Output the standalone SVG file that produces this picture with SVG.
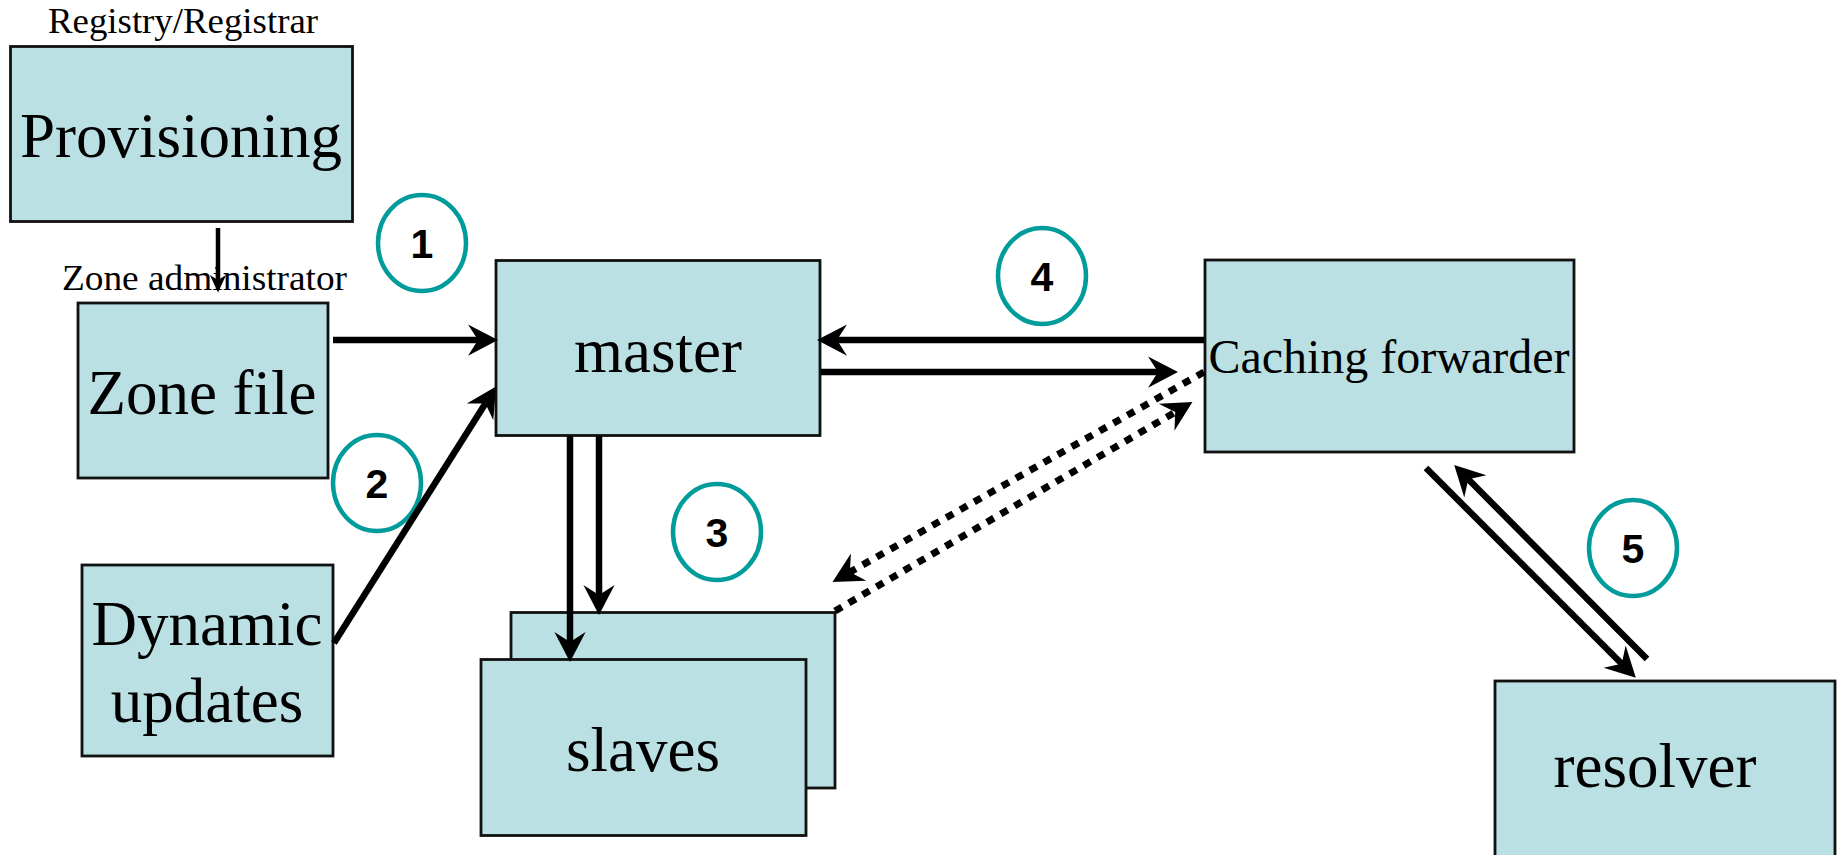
<svg xmlns="http://www.w3.org/2000/svg" width="1842" height="855" viewBox="0 0 1842 855">
  <style>
    .box { fill: #bae0e3; stroke: #111; stroke-width: 2.8; }
    .lbl { font-family: "Liberation Serif", "Times New Roman", serif; fill: #000; text-anchor: middle; }
    .big { font-size: 63px; }
    .small { font-size: 36px; }
    .mid { font-size: 48px; }
    .step { fill: none; stroke: #009b9b; stroke-width: 4.5; }
    .num { font-family: "Liberation Sans", Arial, sans-serif; font-weight: bold; font-size: 41px; fill: #000; text-anchor: middle; }
    .conn { fill: none; stroke: #000; stroke-width: 6.5; stroke-linecap: butt; }
    .thin { stroke-width: 4.5; }
    .dot { stroke-width: 7; stroke-dasharray: 8 8; }
  </style>
  <defs>
    <marker id="head" markerUnits="userSpaceOnUse" orient="auto" markerWidth="40" markerHeight="40" refX="0" refY="0" viewBox="-12 -16 32 32" overflow="visible">
      <path d="M16,0 L-8,-12.5 L0,0 L-8,12.5 Z" fill="#000"/>
    </marker>
    <marker id="headSmall" markerUnits="userSpaceOnUse" orient="auto" markerWidth="20" markerHeight="20" refX="0" refY="0" viewBox="-6 -8 16 16" overflow="visible">
      <path d="M10,0 L-4,-6.5 L0,0 L-4,6.5 Z" fill="#000"/>
    </marker>
  </defs>

  <!-- nodes -->
  <g id="provisioning">
    <text class="lbl small" x="183" y="33" textLength="270" lengthAdjust="spacingAndGlyphs">Registry/Registrar</text>
    <rect class="box" x="10.5" y="46.5" width="342" height="175"/>
    <text class="lbl big" x="181" y="157">Provisioning</text>
  </g>
  <g id="zone-file">
    <text class="lbl small" x="204.5" y="290" textLength="285" lengthAdjust="spacingAndGlyphs">Zone administrator</text>
    <rect class="box" x="78" y="303" width="250" height="175"/>
    <text class="lbl big" x="202" y="414">Zone file</text>
  </g>
  <g id="dynamic-updates">
    <rect class="box" x="82" y="565" width="251" height="191"/>
    <text class="lbl big" x="207" y="645">Dynamic</text>
    <text class="lbl big" x="207" y="722">updates</text>
  </g>
  <g id="master">
    <rect class="box" x="496" y="260.5" width="324" height="175"/>
    <text class="lbl big" x="658" y="372">master</text>
  </g>
  <g id="slaves">
    <rect class="box" x="511" y="612.5" width="324" height="175.5"/>
    <rect class="box" x="481" y="659.5" width="325" height="176"/>
    <text class="lbl big" x="643" y="771">slaves</text>
  </g>
  <g id="caching-forwarder">
    <rect class="box" x="1205" y="260" width="369" height="192"/>
    <text class="lbl mid" x="1389" y="373">Caching forwarder</text>
  </g>
  <g id="resolver">
    <rect class="box" x="1495" y="681" width="340" height="200"/>
    <text class="lbl big" x="1655" y="787">resolver</text>
  </g>

  <!-- step markers -->
  <g id="step-1"><ellipse class="step" cx="422" cy="243" rx="44" ry="48"/><text class="num" x="422" y="257.5">1</text></g>
  <g id="step-2"><ellipse class="step" cx="377" cy="483" rx="44" ry="48"/><text class="num" x="377" y="497.5">2</text></g>
  <g id="step-3"><ellipse class="step" cx="717" cy="532" rx="44" ry="48"/><text class="num" x="717" y="546.5">3</text></g>
  <g id="step-4"><ellipse class="step" cx="1042" cy="276" rx="44" ry="48"/><text class="num" x="1042" y="290.5">4</text></g>
  <g id="step-5"><ellipse class="step" cx="1633" cy="548" rx="44" ry="48"/><text class="num" x="1633" y="562.5">5</text></g>

  <!-- connectors -->
  <g id="connectors">
    <line class="conn thin" x1="218" y1="228" x2="218" y2="280" marker-end="url(#headSmall)"/>
    <line class="conn" x1="333" y1="340" x2="478" y2="340" marker-end="url(#head)"/>
    <line class="conn" x1="334" y1="643" x2="485.4" y2="403.5" marker-end="url(#head)"/>
    <line class="conn" x1="1204" y1="340" x2="837" y2="340" marker-end="url(#head)"/>
    <line class="conn" x1="821" y1="372" x2="1158" y2="372" marker-end="url(#head)"/>
    <line class="conn" x1="570" y1="436" x2="570" y2="642" marker-end="url(#head)"/>
    <line class="conn" x1="599" y1="436" x2="599" y2="595" marker-end="url(#head)"/>
    <line class="conn dot" x1="1204" y1="372" x2="849.9" y2="572.1" marker-end="url(#head)"/>
    <line class="conn dot" x1="835" y1="611" x2="1175.2" y2="412.1" marker-end="url(#head)"/>
    <line class="conn" x1="1426" y1="468" x2="1621.7" y2="663.7" marker-end="url(#head)"/>
    <line class="conn" x1="1647" y1="659" x2="1468.3" y2="479.3" marker-end="url(#head)"/>
  </g>
</svg>
